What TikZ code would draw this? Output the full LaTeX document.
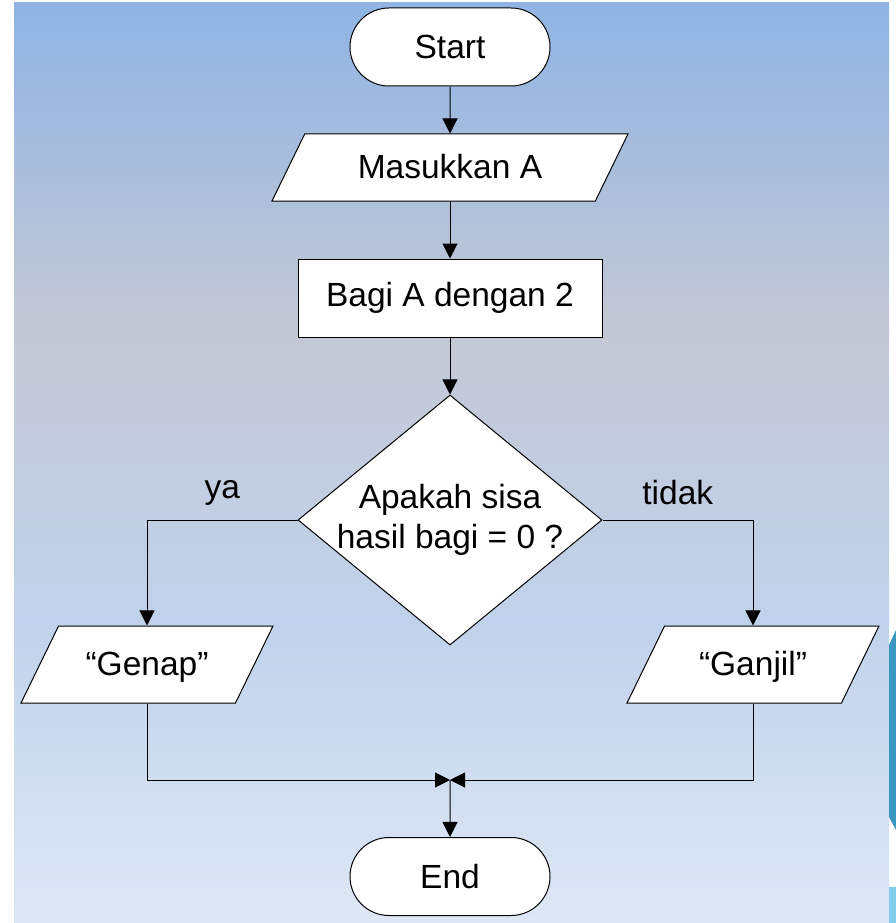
\documentclass[tikz,border=0pt]{standalone}
\usepackage{fontspec}
\setmainfont{Liberation Sans}
\usepackage{xcolor}
\usetikzlibrary{arrows.meta,shapes.geometric,shapes.misc}
\definecolor{bgtop}{RGB}{143,180,228}
\definecolor{bgmid}{RGB}{196,200,212}
\definecolor{bglow}{RGB}{192,210,235}
\definecolor{bgbot}{RGB}{222,231,245}
\definecolor{deco}{RGB}{58,150,195}
\definecolor{decolight}{RGB}{130,205,235}

\begin{document}
\begin{tikzpicture}[x=1pt, y=-1pt, line width=1pt,
    every node/.style={font=\fontsize{33.5}{40}\selectfont},
    box/.style={draw, fill=white, inner sep=0pt},
    terminal/.style={box, rounded rectangle, minimum width=200pt, minimum height=78pt},
    io/.style={box, trapezium, trapezium left angle=64, trapezium right angle=116, trapezium stretches body=true, text height=26pt, text depth=5pt},
    process/.style={box, rectangle, minimum width=304pt, minimum height=78pt},
    decision/.style={box, diamond, aspect=1.216, inner sep=-6pt, minimum width=304pt, minimum height=250pt, align=center},
    flow/.style={-{Triangle[width=15pt,length=15pt]}}]
    \useasboundingbox (0,0) rectangle (896,923);
    % background
    \fill[white] (0,0) rectangle (896,923);
    \shade[top color=bgtop, bottom color=bgmid] (14,3) rectangle (889,331);
    \shade[top color=bgmid, bottom color=bglow] (14,330) rectangle (889,621);
    \shade[top color=bglow, bottom color=bgbot] (14,620) rectangle (889,923);
    \fill[deco] (889,645) -- (896,630) -- (896,830) -- (889,817) -- cycle;
    \fill[decolight] (889,887) rectangle (896,923);
    % flowchart
    \node[terminal] (0) at (450,47) {Start};
    \node[io, inner ysep=18pt, minimum width=356pt] (1) at (450,167.5) {Masukkan A};
    \node[process] (2) at (450,298) {Bagi A dengan 2};
    \node[decision] (3) at (450,520) {Apakah sisa\\hasil bagi = 0 ?};
    \node[io, inner ysep=23pt, minimum width=252pt] (4) at (147,664.5) {“Genap”};
    \node[io, inner ysep=23pt, minimum width=252pt] (5) at (753,664.5) {“Ganjil”};
    \node[terminal] (6) at (450,876.5) {End};
    \coordinate (7) at (450,780);
        \draw[flow] (0) -- (1);
        \draw[flow] (1) -- (2);
        \draw[flow] (2) -- (3);
        \draw[flow] (3.west) -| node[pos=0.25, above=11pt] {ya} (4);
        \draw[flow] (3.east) -| node[pos=0.25, above=11pt] {tidak} (5);
        \draw[flow] (4) |- (7);
        \draw[flow] (5) |- (7);
        \draw[flow] (7) -- (6);
\end{tikzpicture}
\end{document}
